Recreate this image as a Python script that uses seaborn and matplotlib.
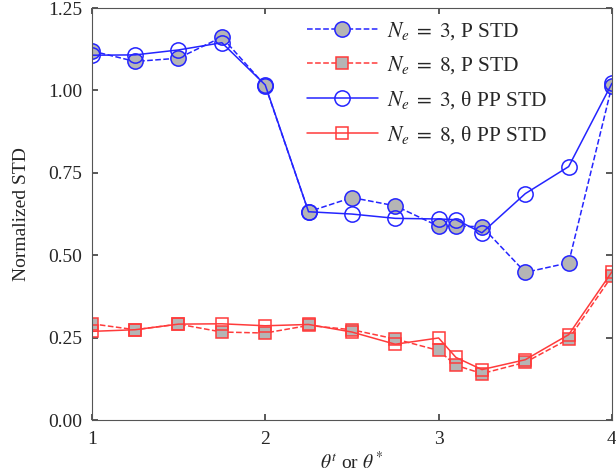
import numpy as np
import pandas as pd
import matplotlib
matplotlib.use("Agg")
import matplotlib.pyplot as plt
import seaborn as sns

# theta values on the x axis
theta = [1, 1.25, 1.5, 1.75, 2, 2.25, 2.5, 2.75, 3, 3.1, 3.25, 3.5, 3.75, 4]

# Ne = 3
p_std_ne3 = [1.12, 1.088, 1.098, 1.162, 1.015, 0.632, 0.675, 0.65, 0.588, 0.588, 0.587, 0.448, 0.477, 1.015]
pp_std_ne3 = [1.107, 1.108, 1.123, 1.145, 1.017, 0.632, 0.625, 0.612, 0.61, 0.608, 0.568, 0.687, 0.769, 1.022]

# Ne = 8
p_std_ne8 = [0.292, 0.274, 0.291, 0.267, 0.264, 0.287, 0.274, 0.246, 0.211, 0.166, 0.141, 0.175, 0.246, 0.437]
pp_std_ne8 = [0.269, 0.274, 0.291, 0.292, 0.286, 0.29, 0.267, 0.23, 0.249, 0.19, 0.153, 0.183, 0.259, 0.45]

sns.set_theme(style="ticks")
plt.rcParams['font.family'] = ['Liberation Serif', 'DejaVu Serif']
plt.rcParams['mathtext.fontset'] = 'stix'
plt.rcParams['font.size'] = 14

blue = '#2424ff'
red = '#ff3b3b'
grey = '#b5b5b5'

fig = plt.figure(figsize=(6.16, 4.76), dpi=100)
ax = fig.add_axes([0.149, 0.1176, 0.8445, 0.8654])

series = [
    (p_std_ne3, r'$N_e\;=\;3$, P STD', blue, '--', 'o', grey, 11),
    (p_std_ne8, r'$N_e\;=\;8$, P STD', red, '--', 's', grey, 9),
    (pp_std_ne3, r'$N_e\;=\;3$, θ PP STD', blue, '-', 'o', 'none', 11),
    (pp_std_ne8, r'$N_e\;=\;8$, θ PP STD', red, '-', 's', 'none', 9),
]
for vals, lab, col, ls, mk, face, ms in series:
    sns.lineplot(x=theta, y=vals, ax=ax, label=lab, color=col, linestyle=ls,
                 marker=mk, markersize=ms, markerfacecolor=face,
                 markeredgecolor=col, markeredgewidth=1.1, linewidth=1.1)

ax.set_xlim(1, 4)
ax.set_ylim(0, 1.25)
ax.set_xticks([1, 2, 3, 4])
ax.set_xticklabels(['1', '2', '3', '4'])
ax.set_yticks([0, 0.25, 0.5, 0.75, 1.0, 1.25])
ax.set_yticklabels(['0.00', '0.25', '0.50', '0.75', '1.00', '1.25'])
ax.tick_params(direction='in', top=True, right=True, length=4, labelsize=14, color='#444444')
ax.tick_params(axis='y', pad=7)
ax.tick_params(axis='x', pad=8)
for s in ax.spines.values():
    s.set_color('#555555')
    s.set_linewidth(0.8)

ax.set_ylabel('Normalized STD', fontsize=14, labelpad=13)
ax.set_xlabel(r'$\theta^t$ or $\theta^*$', fontsize=14, labelpad=2)

ax.legend(loc='upper left', bbox_to_anchor=(0.413, 0.972), frameon=False,
          fontsize=15.5, handlelength=3.3, handletextpad=0.45,
          labelspacing=0.6, borderpad=0, borderaxespad=0)

fig.savefig('out.png', dpi=100)
